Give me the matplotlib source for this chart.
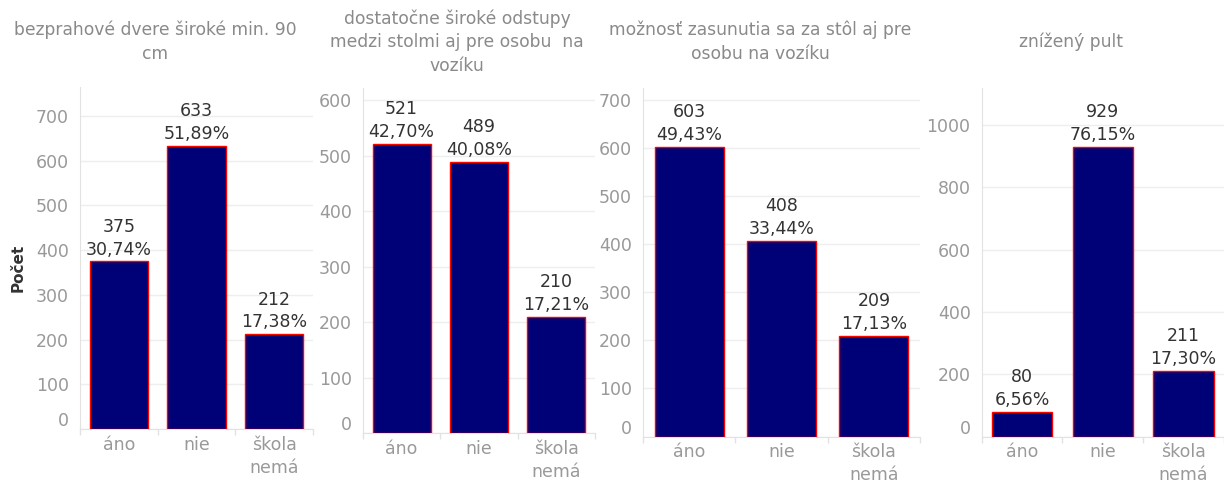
import matplotlib.pyplot as plt
import matplotlib.transforms as mtransforms
import numpy as np

plt.rcParams['font.family'] = ['DejaVu Sans']

categories = ['áno', 'nie', 'škola\nnemá']
titles = [
    'bezprahové dvere široké min. 90\ncm',
    'dostatočne široké odstupy\nmedzi stolmi aj pre osobu  na\nvozíku',
    'možnosť zasunutia sa za stôl aj pre\nosobu na vozíku',
    'znížený pult',
]
counts = [
    [375, 633, 212],
    [521, 489, 210],
    [603, 408, 209],
    [80, 929, 211],
]
percents = [
    ['30,74%', '51,89%', '17,38%'],
    ['42,70%', '40,08%', '17,21%'],
    ['49,43%', '33,44%', '17,13%'],
    ['6,56%', '76,15%', '17,30%'],
]
y_max = [765, 622, 726, 1119]
y_step = [100, 100, 100, 200]
y_top_tick = [700, 600, 700, 1000]

W, H = 1224, 483
# axes boxes in pixels: left, right, top, bottom
boxes = [(80, 313, 87, 429), (363, 595, 88, 433), (643, 920, 88, 436.5), (981.7, 1224, 88, 436.5)]
title_x = [155, 457, 760, 1071]

fig = plt.figure(figsize=(W / 100, H / 100), dpi=100)

grid_c = '#eeeeee'
axis_c = '#e2e2e2'
tick_c = '#999999'
val_c = '#333333'

x = np.arange(len(categories))
for i in range(4):
    l, r, t, b = boxes[i]
    ax = fig.add_axes([l / W, 1 - b / H, (r - l) / W, (b - t) / H])
    ax.bar(x, counts[i], width=0.75, color='#000077', edgecolor='#ff0000', linewidth=1, zorder=3)
    for xi, c, p in zip(x, counts[i], percents[i]):
        ax.annotate(f'{c}\n{p}', (xi, c), xytext=(0, 2), textcoords='offset points',
                    ha='center', va='bottom', fontsize=12.5, color=val_c, linespacing=1.35)
    ax.set_xlim(-0.5, 2.5)
    ax.set_ylim(0, y_max[i])
    ax.set_yticks(np.arange(0, y_top_tick[i] + 1, y_step[i]))
    ax.set_xticks(x)
    ax.set_xticklabels(categories, linespacing=1.35)
    ax.set_xticks([-0.5, 0.5, 1.5, 2.5], minor=True)
    ax.tick_params(axis='x', which='major', length=0, pad=5, labelsize=12.5, labelcolor=tick_c)
    ax.tick_params(axis='x', which='minor', length=4, color=axis_c, width=1)
    ax.tick_params(axis='y', length=0, pad=8, labelsize=12.5, labelcolor=tick_c)
    ax.grid(axis='y', color=grid_c, linewidth=1, zorder=0)
    for s in ['top', 'right']:
        ax.spines[s].set_visible(False)
    ax.spines['left'].set_color(axis_c)
    ax.spines['bottom'].set_color(axis_c)
    # lift the zero label above the baseline
    lab0 = ax.get_yticklabels()[0]
    lab0.set_transform(lab0.get_transform() + mtransforms.ScaledTranslation(0, 0.1, fig.dpi_scale_trans))
    fig.text(title_x[i] / W, 1 - 42 / H, titles[i], ha='center', va='center',
             fontsize=12.3, color='#8a8a8a', linespacing=1.4)

fig.text(18 / W, 1 - 268 / H, 'Počet', rotation=90, ha='center', va='center',
         fontsize=11, fontweight='bold', color='#333333')

fig.savefig('out.png', dpi=100)
